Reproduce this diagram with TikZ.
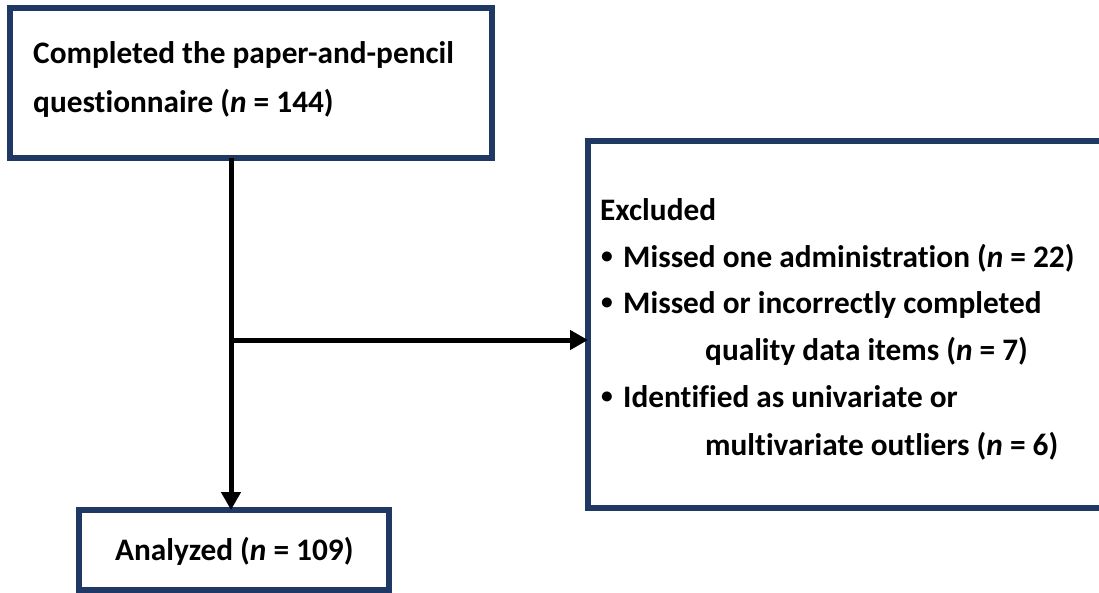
\documentclass[tikz,border=0pt]{standalone}
\usepackage{fontspec}
\setmainfont{Carlito}[Ligatures=NoCommon]
\usetikzlibrary{arrows.meta}
\definecolor{boxnavy}{HTML}{1F3864}
\newcommand{\smbullet}{\makebox[22pt][l]{\raisebox{0.12em}{\scalebox{0.75}{\textbullet}}}}
\tikzset{
  boxstyle/.style={draw=boxnavy, line width=5.5pt, fill=white, rectangle, inner sep=0pt, outer sep=0pt, anchor=north west},
  txt/.style={anchor=base west, inner sep=0pt, font=\fontsize{31.3}{31.3}\selectfont\bfseries},
  conn/.style={line width=5pt, draw=black},
  tip/.style={-{Triangle[length=18pt,width=19pt]}},
}
\begin{document}
\begin{tikzpicture}[x=1pt,y=-1pt]
\useasboundingbox (0,0) rectangle (1099,592);
\clip (0,0) rectangle (1099,592);
% boxes
\node[boxstyle, minimum width=482pt, minimum height=150pt] (top) at (10,8) {};
\node[boxstyle, minimum width=600pt, minimum height=367pt] (excl) at (588,141) {};
\node[boxstyle, minimum width=310pt, minimum height=80pt] (ana) at (79,510) {};
% texts
\node[txt] (t1) at (33,63) {Completed the paper-and-pencil};
\node[txt] (t2) at (33,112) {questionnaire (\textit{n} = 144)};
\node[txt] (e0) at (600,220) {Excluded};
\node[txt] (e1) at (601,267) {\smbullet Missed one administration (\textit{n} = 22)};
\node[txt] (e2) at (601,313) {\smbullet Missed or incorrectly completed};
\node[txt] (e3) at (705,360) {quality data items (\textit{n} = 7)};
\node[txt] (e4) at (601,407) {\smbullet Identified as univariate or};
\node[txt] (e5) at (705,455) {multivariate outliers (\textit{n} = 6)};
\node[txt] (a1) at (115,560) {Analyzed (\textit{n} = 109)};
% connectors
\coordinate (split) at (231,340);
\draw[conn, tip] (top.south -| split) -- (ana.north -| split);
\draw[conn, tip] (split) -- (split -| excl.west);
\end{tikzpicture}
\end{document}
